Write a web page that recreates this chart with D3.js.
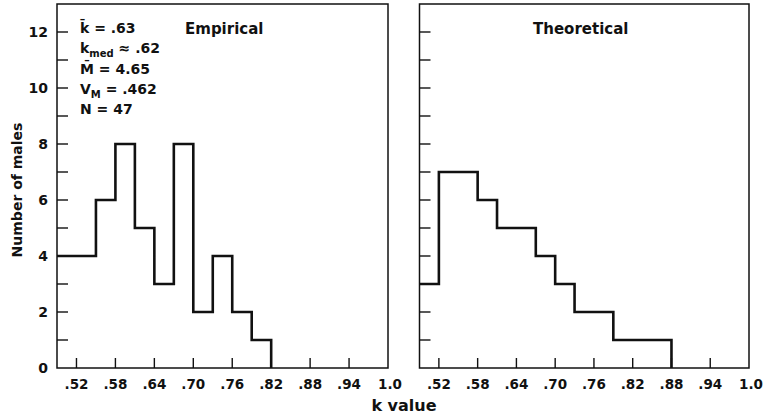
<!DOCTYPE html>
<html lang="en">
<head>
<meta charset="UTF-8">
<title>k value histograms</title>
<script src="https://d3js.org/d3.v7.min.js"></script>
<style>
    body { margin: 0; background: #fff; }
    text { font-family: "DejaVu Sans", sans-serif; font-weight: bold; fill: #111; }
    .frame { fill: none; stroke: #111; stroke-width: 1.5; }
    .hist { fill: none; stroke: #111; stroke-width: 2.6; }
    .tick-line { stroke: #111; stroke-width: 1.4; }
</style>
</head>
<body>
<svg width="763" height="416"></svg>
<script>
    // bin lower edges (width .03), counts per bin
    const binEdges = [0.49, 0.52, 0.55, 0.58, 0.61, 0.64, 0.67, 0.70, 0.73, 0.76, 0.79, 0.82, 0.85, 0.88];
    const empiricalCounts = [4, 4, 6, 8, 5, 3, 8, 2, 4, 2, 1];
    const theoreticalCounts = [3, 7, 7, 6, 5, 5, 4, 3, 2, 2, 1, 1, 1];

    const xTickValues = [0.52, 0.58, 0.64, 0.70, 0.76, 0.82, 0.88, 0.94, 1.0];
    const xTickLabels = [".52", ".58", ".64", ".70", ".76", ".82", ".88", ".94", "1.0"];
    const yTickValues = [0, 1, 2, 3, 4, 5, 6, 7, 8, 9, 10, 11, 12];

    const svg = d3.select("svg");

    const plotTop = 4, plotBottom = 368;
    const y = d3.scaleLinear().domain([0, 13]).range([plotBottom, plotTop]);

    const panels = [
        { title: "Empirical", counts: empiricalCounts, left: 57, right: 388, titleX: 185, showY: true },
        { title: "Theoretical", counts: theoreticalCounts, left: 419.5, right: 749, titleX: 533, showY: false }
    ];

    panels.forEach(p => {
        const x = d3.scaleLinear().domain([0.49, 1.0]).range([p.left, p.right]);
        const g = svg.append("g");

        // frame
        g.append("rect")
            .attr("class", "frame")
            .attr("x", p.left).attr("y", plotTop)
            .attr("width", p.right - p.left).attr("height", plotBottom - plotTop);

        // y ticks (inward)
        g.selectAll(".ytick")
            .data(yTickValues.filter(d => d > 0))
            .enter().append("line")
            .attr("class", "tick-line")
            .attr("x1", p.left).attr("x2", p.left + 11)
            .attr("y1", d => y(d)).attr("y2", d => y(d));

        if (p.showY) {
            g.selectAll(".ylab")
                .data(yTickValues.filter(d => d % 2 === 0))
                .enter().append("text")
                .attr("x", p.left - 9)
                .attr("y", d => y(d))
                .attr("dy", "0.36em")
                .attr("text-anchor", "end")
                .style("font-size", "14px")
                .text(d => d);
        }

        // x ticks (inward)
        g.selectAll(".xtick")
            .data(xTickValues.slice(0, -1))
            .enter().append("line")
            .attr("class", "tick-line")
            .attr("x1", d => x(d)).attr("x2", d => x(d))
            .attr("y1", plotBottom).attr("y2", plotBottom - 10);

        g.selectAll(".xlab")
            .data(xTickValues)
            .enter().append("text")
            .attr("x", (d, i) => x(d) + (i === xTickValues.length - 1 ? 2 : 0))
            .attr("y", 389)
            .attr("text-anchor", "middle")
            .style("font-size", "13.5px")
            .text((d, i) => xTickLabels[i]);

        // histogram as a step line
        const pts = p.counts.map((c, i) => [binEdges[i], c]);
        pts.push([binEdges[p.counts.length], 0]);
        const line = d3.line()
            .x(d => x(d[0]))
            .y(d => y(d[1]))
            .curve(d3.curveStepAfter);
        g.append("path")
            .attr("class", "hist")
            .attr("d", line(pts));

        g.append("text")
            .attr("x", p.titleX).attr("y", 34)
            .style("font-size", "15px")
            .text(p.title);
    });

    // stats block
    const stats = svg.append("text").attr("x", 80).style("font-size", "14px");
    const l1 = stats.append("tspan").attr("x", 80).attr("y", 33);
    l1.append("tspan").text("k\u0304 = .63");
    const l2 = stats.append("tspan").attr("x", 80).attr("y", 53);
    l2.append("tspan").text("k");
    l2.append("tspan").attr("dy", 4).style("font-size", "10px").text("med");
    l2.append("tspan").attr("dy", -4).text(" \u2248 .62");
    const l3 = stats.append("tspan").attr("x", 80).attr("y", 74);
    l3.append("tspan").text("M\u0304 = 4.65");
    const l4 = stats.append("tspan").attr("x", 80).attr("y", 94);
    l4.append("tspan").text("V");
    l4.append("tspan").attr("dy", 4).style("font-size", "10px").text("M");
    l4.append("tspan").attr("dy", -4).text(" = .462");
    stats.append("tspan").attr("x", 80).attr("y", 114).text("N = 47");

    // axis titles
    svg.append("text")
        .attr("x", 404).attr("y", 411)
        .attr("text-anchor", "middle")
        .style("font-size", "16px")
        .text("k value");

    svg.append("text")
        .attr("transform", "translate(22,190) rotate(-90)")
        .attr("text-anchor", "middle")
        .style("font-size", "14px")
        .text("Number of males");
</script>
</body>
</html>
